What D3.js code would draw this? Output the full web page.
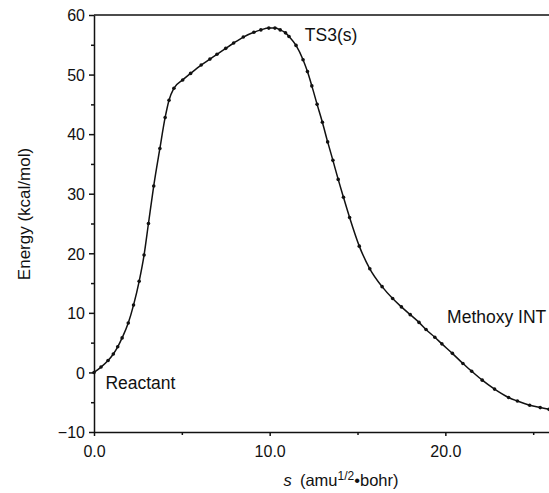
<!DOCTYPE html>
<html lang="en">
<head>
  <meta charset="UTF-8">
  <title>Energy profile along s</title>
  <script src="https://d3js.org/d3.v7.min.js"></script>
  <style>
    body { margin: 0; background: #fff; }
    svg { font-family: "Liberation Sans", Arial, sans-serif; }
    .axis text { font-size: 16px; fill: #111; }
    .axis path, .axis line { stroke: #111; stroke-width: 1.5; }
  </style>
</head>
<body>
<div id="chart"></div>
<script>
  // reaction coordinate s (amu^1/2 bohr) and energy (kcal/mol)
  var sVals = [0, 0.4, 0.8, 1.1, 1.35, 1.6, 1.95, 2.25, 2.57, 2.85, 3.1, 3.4, 3.75, 4.05, 4.27,
    4.55, 5.05, 5.5, 6.1, 6.6, 7.0, 7.5, 7.95, 8.5, 9.1, 9.5, 9.95, 10.3, 10.6, 10.9, 11.1,
    11.5, 11.9, 12.15, 12.4, 12.7, 13.0, 13.3, 13.6, 13.9, 14.2, 14.55, 15.1, 15.7, 16.4,
    17.0, 17.5, 18.0, 18.5, 18.9, 19.4, 19.8, 20.4, 21.0, 21.5, 22.1, 22.8, 23.6, 24.1,
    24.8, 25.4, 25.9];
  var energy = [0, 0.9, 2.0, 3.1, 4.3, 5.8, 8.3, 11.3, 15.3, 19.7, 25, 31.3, 37.6, 42.8, 45.7,
    47.7, 49.1, 50.2, 51.6, 52.6, 53.4, 54.4, 55.3, 56.3, 57.1, 57.5, 57.8, 57.8, 57.5, 57.0, 56.4,
    54.9, 52.5, 50.5, 48.1, 45, 42, 38.7, 35.6, 32.4, 29.4, 26, 21.2, 17.4, 14.4,
    12.4, 11.0, 9.7, 8.4, 7.2, 5.9, 4.8, 3.2, 1.5, 0.2, -1.3, -2.8, -4.2, -4.8,
    -5.5, -5.9, -6.2];

  var xTicks = [0, 10, 20];
  var xMinor = [5, 15, 25];
  var yTicks = [-10, 0, 10, 20, 30, 40, 50, 60];
  var yMinor = [-5, 5, 15, 25, 35, 45, 55];

  var labels = [
    { text: "TS3(s)", s: 12.0, e: 55.7 },
    { text: "Reactant", s: 0.65, e: -2.7 },
    { text: "Methoxy INT", s: 20.1, e: 8.3 }
  ];

  var width = 549, height = 493;
  var margin = { top: 15, left: 94, bottom: 61 };

  var svg = d3.select("#chart").append("svg")
    .attr("width", width)
    .attr("height", height);

  var x = d3.scaleLinear().domain([0, 25.9]).range([margin.left, width]);
  var y = d3.scaleLinear().domain([-10, 60]).range([height - margin.bottom, margin.top]);

  // axes
  svg.append("g")
    .attr("class", "axis")
    .attr("transform", "translate(0," + y(-10) + ")")
    .call(d3.axisBottom(x).tickValues(xTicks).tickFormat(d3.format(".1f")).tickSize(4).tickSizeOuter(0))
    .call(function (g) { g.selectAll("text").attr("dy", "1.1em"); });

  svg.append("g")
    .attr("class", "axis")
    .attr("transform", "translate(0," + y(-10) + ")")
    .call(d3.axisBottom(x).tickValues(xMinor).tickFormat("").tickSize(3).tickSizeOuter(0))
    .call(function (g) { g.select(".domain").remove(); });

  svg.append("g")
    .attr("class", "axis")
    .attr("transform", "translate(" + margin.left + ",0)")
    .call(d3.axisLeft(y).tickValues(yTicks).tickSize(5).tickSizeOuter(0).tickPadding(4))
    .call(function (g) { g.selectAll("text").attr("dy", "0.36em"); });

  svg.append("g")
    .attr("class", "axis")
    .attr("transform", "translate(" + margin.left + ",0)")
    .call(d3.axisLeft(y).tickValues(yMinor).tickFormat("").tickSize(3).tickSizeOuter(0))
    .call(function (g) { g.select(".domain").remove(); });

  // top frame line
  svg.append("line")
    .attr("x1", margin.left).attr("x2", width)
    .attr("y1", y(60)).attr("y2", y(60))
    .attr("stroke", "#111").attr("stroke-width", 1.5);

  // axis titles
  svg.append("text")
    .attr("transform", "translate(30," + 214 + ") rotate(-90)")
    .attr("text-anchor", "middle")
    .style("font-size", "17px")
    .attr("fill", "#111")
    .text("Energy (kcal/mol)");

  var xt = svg.append("text")
    .attr("x", 341).attr("y", 486)
    .attr("text-anchor", "middle")
    .style("font-size", "16.5px")
    .attr("fill", "#111");
  xt.append("tspan").style("font-style", "italic").text("s");
  xt.append("tspan").text("\u2002(amu");
  xt.append("tspan").attr("dy", -6).style("font-size", "12px").text("1/2");
  xt.append("tspan").attr("dy", 6).text("\u2022bohr)");

  // curve
  var pts = sVals.map(function (s, i) { return [s, energy[i]]; });

  svg.append("path")
    .datum(pts)
    .attr("fill", "none")
    .attr("stroke", "#111")
    .attr("stroke-width", 1.5)
    .attr("d", d3.line()
      .x(function (d) { return x(d[0]); })
      .y(function (d) { return y(d[1]); })
      .curve(d3.curveMonotoneX));

  svg.selectAll("circle.pt")
    .data(pts)
    .enter().append("circle")
    .attr("class", "pt")
    .attr("cx", function (d) { return x(d[0]); })
    .attr("cy", function (d) { return y(d[1]); })
    .attr("r", 1.8)
    .attr("fill", "#111");

  // state labels
  svg.selectAll("text.lbl")
    .data(labels)
    .enter().append("text")
    .attr("class", "lbl")
    .attr("x", function (d) { return x(d.s); })
    .attr("y", function (d) { return y(d.e); })
    .style("font-size", "17.5px")
    .attr("fill", "#111")
    .text(function (d) { return d.text; });
</script>
</body>
</html>
